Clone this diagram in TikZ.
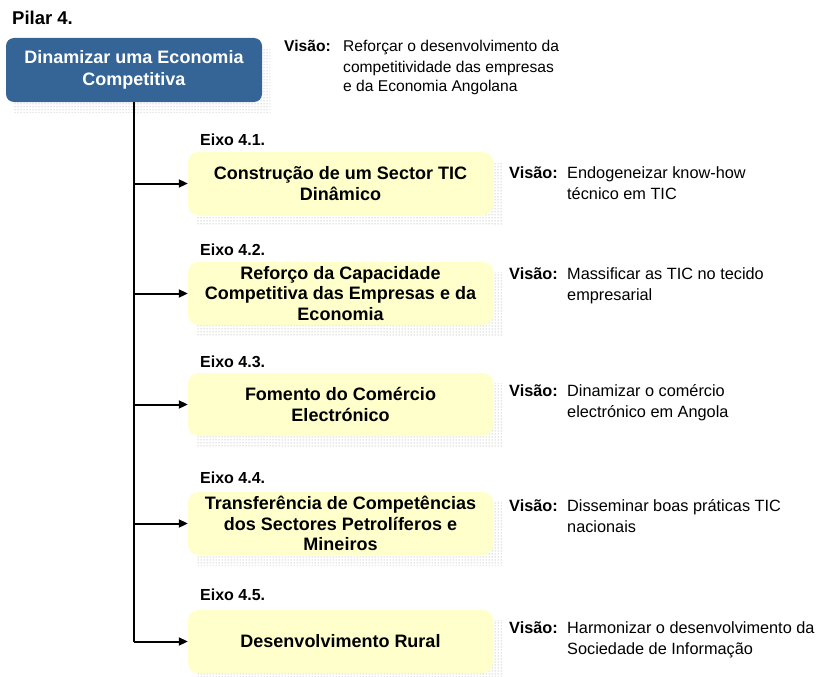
\documentclass[tikz,border=0pt]{standalone}
\usepackage{fontspec}
\setmainfont{Liberation Sans}
\usetikzlibrary{patterns,arrows.meta}
\definecolor{pilarblue}{RGB}{52,101,150}
\definecolor{eixoyellow}{RGB}{255,255,204}
\tikzset{
  pilarbox/.style={fill=pilarblue, rounded corners=8pt, minimum width=256pt, minimum height=64pt, inner sep=0pt, text=white, align=center, font=\bfseries\fontsize{18}{22}\selectfont},
  eixobox/.style={fill=eixoyellow, rounded corners=10pt, minimum width=305pt, minimum height=63pt, inner sep=0pt, align=center, font=\bfseries\fontsize{18}{20.5}\selectfont},
  shade/.style={pattern=dots, pattern color=gray!80, draw=none},
  eixolabel/.style={anchor=base west, inner sep=0pt, font=\bfseries\fontsize{16}{19}\selectfont},
  vislabel/.style={anchor=base west, inner sep=0pt, font=\bfseries\fontsize{16.3}{21}\selectfont},
  vistext/.style={anchor=base west, inner sep=0pt, align=left, font=\fontsize{16.3}{21}\selectfont},
  branch/.style={line width=2pt, -{Triangle[length=9pt,width=8pt]}}
}
\begin{document}
\begin{tikzpicture}[x=1pt,y=-1pt]
	\useasboundingbox (0,0) rectangle (819,677);
	\node [anchor=base west, inner sep=0pt, font=\bfseries\fontsize{18.5}{22}\selectfont] (title) at (12,25) {Pilar 4.};
	% pillar box with its dotted shadow
	\fill [shade] (14,48) rectangle (270,112);
	\node [pilarbox] (pilar) at (134,70) {Dinamizar uma Economia\\Competitiva};
	\node [vislabel, font=\bfseries\fontsize{15.6}{20}\selectfont] (vlp) at (284,52) {Visão:};
	\node [vistext, font=\fontsize{15.6}{20}\selectfont] (vtp) at (343,92) {Reforçar o desenvolvimento da\\competitividade das empresas\\e da Economia Angolana};
	% axes (base of a vision text = its second line)
	\foreach \n/\t/\eb/\vb/\txt/\vis in {
		1/152/145/178/{Construção de um Sector TIC\\Dinâmico}/{Endogeneizar know-how\\técnico em TIC},
		2/262/255/279/{Reforço da Capacidade\\Competitiva das Empresas e da\\Economia}/{Massificar as TIC no tecido\\empresarial},
		3/373/367/396/{Fomento do Comércio\\Electrónico}/{Dinamizar o comércio\\electrónico em Angola},
		4/492/483/511/{Transferência de Competências\\dos Sectores Petrolíferos e\\Mineiros}/{Disseminar boas práticas TIC\\nacionais},
		5/610/600/633/{Desenvolvimento Rural}/{Harmonizar o desenvolvimento da\\Sociedade de Informação}}{
		\fill [shade] (197,\t+10) rectangle (502,\t+73);
		\node [eixobox] (e\n) at (340.5,\t+31.5) {\txt};
		\node [eixolabel] (l\n) at (200,\eb) {Eixo 4.\n.};
		\node [vislabel] (vl\n) at (509,\vb) {Visão:};
		\node [vistext] (vt\n) at (567,\vb+21) {\vis};
		\draw [branch] (pilar.south |- e\n.west) -- (e\n.west);
	}
	\draw [line width=2pt] (pilar.south) -- (pilar.south |- e5.west);
\end{tikzpicture}
\end{document}
